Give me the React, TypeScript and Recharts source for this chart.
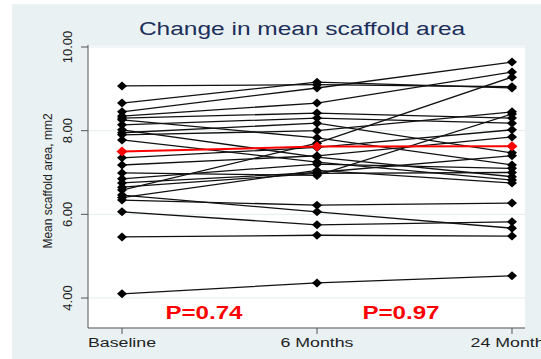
import React from 'react';
import { LineChart, Line, XAxis, YAxis, CartesianGrid } from 'recharts';

const categories = ['Baseline', '6 Months', '24 Months'];
// one entry per patient, same order in each array
const baseline = [9.07, 8.66, 8.45, 8.35, 8.3, 8.26, 8.14, 8.02, 7.95, 7.9, 7.78, 7.35, 7.18, 6.99, 6.85, 6.75, 6.65, 6.58, 6.46, 6.4, 6.34, 6.06, 5.46, 4.1];
const sixMonths = [9.1, 9.16, 9.02, 8.66, 8.42, 7.83, 8.3, 7.37, 8.18, 8.0, 7.25, 7.6, 7.4, 6.93, 7.2, 7.0, 6.98, 7.7, 6.06, 7.05, 6.22, 5.75, 5.5, 4.36];
const twentyFourMonths = [9.05, 9.02, 9.64, 9.4, 8.3, 7.18, 8.18, 6.9, 7.47, 8.45, 6.82, 8.02, 7.85, 8.4, 7.1, 7.4, 7.0, 9.28, 5.67, 6.75, 6.27, 5.82, 5.48, 4.53];
const meanArea = [7.5, 7.62, 7.63];
const yTicks = [4, 6, 8, 10];
const pValues = ['P=0.74', 'P=0.97'];

const series = [baseline, sixMonths, twentyFourMonths];
const subjectKeys = baseline.map((_, i) => `s${i + 1}`);

const data = categories.map((name, i) => {
    const row: Record<string, number | string> = { x: i, name, mean: meanArea[i] };
    subjectKeys.forEach((k, j) => {
        row[k] = series[i][j];
    });
    return row;
});

const FONT = '"Liberation Sans", Arial, sans-serif';

const diamond = (color: string, rx: number, ry: number) => (props: any) => {
    const { cx, cy, index } = props;
    if (cx == null || cy == null) return <g key={index} />;
    return (
        <path
            key={index}
            d={`M${cx},${cy - ry}L${cx + rx},${cy}L${cx},${cy + ry}L${cx - rx},${cy}Z`}
            fill={color}
            stroke="none"
        />
    );
};

const blackDiamond = diamond('#000', 5, 4.5);
const redDiamond = diamond('#ff0000', 5.5, 5);

const XTick = (props: any) => {
    const { x, payload } = props;
    return (
        <text
            transform={`translate(${x},343) scale(1.42,1)`}
            textAnchor="middle"
            fontFamily={FONT}
            fontSize={12.5}
            fill="#222"
        >
            {categories[payload.value]}
        </text>
    );
};

const YTick = (props: any) => {
    const { y, payload } = props;
    return (
        <text
            transform={`translate(60,${y}) rotate(-90)`}
            textAnchor="middle"
            fontFamily={FONT}
            fontSize={13}
            fill="#222"
        >
            {Number(payload.value).toFixed(2)}
        </text>
    );
};

const App: React.FC = () => (
    <div>
        <div style={{ position: 'absolute', left: 12, top: 4, width: 529, height: 355, background: '#e9f1f3' }}>
            <LineChart width={529} height={355} data={data} margin={{ top: 41, right: 16, bottom: 0, left: 0 }}>
                <CartesianGrid vertical={false} stroke="#e4edf0" fill="#ffffff" />
                <XAxis
                    type="number"
                    dataKey="x"
                    domain={[-0.1744, 2.0667]}
                    allowDataOverflow
                    ticks={[0, 1, 2]}
                    interval={0}
                    height={31}
                    tickSize={6}
                    tick={<XTick />}
                    tickLine={{ stroke: '#555' }}
                    axisLine={{ stroke: '#555' }}
                />
                <YAxis
                    type="number"
                    domain={[3.283, 10.048]}
                    allowDataOverflow
                    ticks={yTicks}
                    interval={0}
                    width={76}
                    tickSize={7}
                    tick={<YTick />}
                    tickLine={{ stroke: '#555' }}
                    axisLine={{ stroke: '#555' }}
                />
                {subjectKeys.map(k => (
                    <Line
                        key={k}
                        type="linear"
                        dataKey={k}
                        stroke="#111"
                        strokeWidth={1.3}
                        dot={blackDiamond}
                        activeDot={false}
                        isAnimationActive={false}
                    />
                ))}
                <Line
                    type="linear"
                    dataKey="mean"
                    stroke="#ff0000"
                    strokeWidth={2}
                    dot={redDiamond}
                    activeDot={false}
                    isAnimationActive={false}
                />
            </LineChart>
        </div>
        <svg width={541} height={359} style={{ position: 'absolute', left: 0, top: 0, pointerEvents: 'none' }}>
            <text
                transform="translate(302,34.5) scale(1.29,1)"
                textAnchor="middle"
                fontFamily={FONT}
                fontSize={19}
                fill="#1c2f5a"
            >
                Change in mean scaffold area
            </text>
            <text
                transform="translate(52,181) rotate(-90)"
                textAnchor="middle"
                fontFamily={FONT}
                fontSize={12}
                fill="#222"
            >
                Mean scaffold area, mm2
            </text>
            {pValues.map((p, i) => (
                <text
                    key={p}
                    transform={`translate(${i === 0 ? 204 : 401},319) scale(1.34,1)`}
                    textAnchor="middle"
                    fontFamily={FONT}
                    fontWeight="bold"
                    fontSize={18}
                    fill="#ff0000"
                >
                    {p}
                </text>
            ))}
        </svg>
    </div>
);

export default App;
